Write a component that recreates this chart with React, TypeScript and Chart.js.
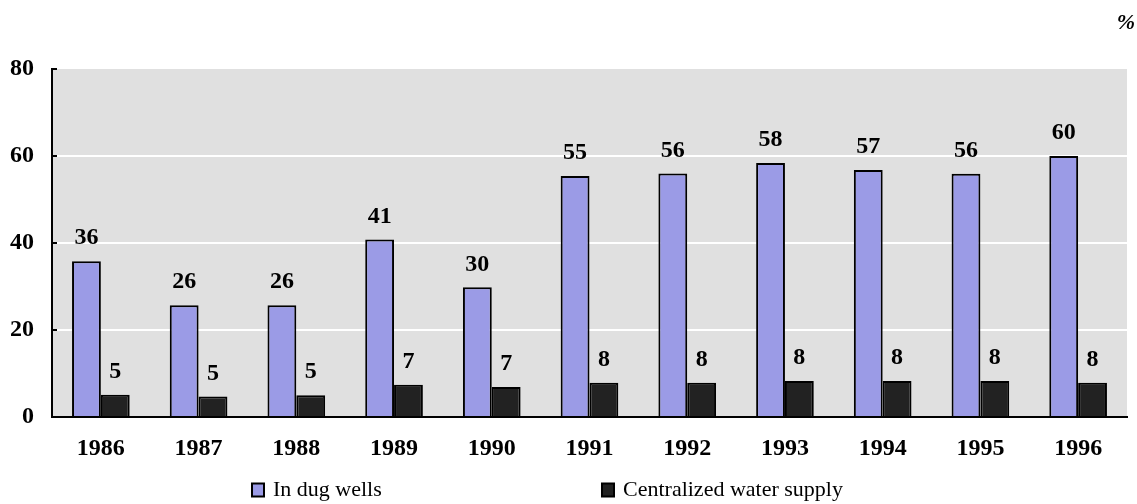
import React, { useEffect, useRef } from "react";
import { Chart, registerables } from "chart.js";

Chart.register(...registerables);

const years = ["1986", "1987", "1988", "1989", "1990", "1991", "1992", "1993", "1994", "1995", "1996"];
const dugWells = [35.8, 25.7, 25.7, 40.8, 29.8, 55.4, 56.0, 58.4, 56.8, 55.9, 60.0];
const centralized = [5.1, 4.7, 5.0, 7.4, 6.9, 7.9, 7.9, 8.3, 8.3, 8.3, 7.9];
const seriesNames = ["In dug wells", "Centralized water supply"];
const seriesColors = ["#9b9be6", "#222222"];
const yTicks = [0, 20, 40, 60, 80];
const unitLabel = "%";

const SERIF = "'Liberation Serif', 'Times New Roman', serif";

const decorPlugin = {
  id: "decor",
  beforeDraw(chart: any) {
    const { ctx, chartArea } = chart;
    ctx.save();
    ctx.fillStyle = "#e0e0e0";
    ctx.fillRect(chartArea.left, chartArea.top, chartArea.right - chartArea.left, chartArea.bottom - chartArea.top);
    ctx.restore();
  },
  afterDraw(chart: any) {
    const { ctx, chartArea } = chart;
    const y = chart.scales.y;
    ctx.save();
    ctx.strokeStyle = "#000";
    ctx.lineWidth = 2;
    yTicks.forEach((v) => {
      const py = Math.round(y.getPixelForValue(v));
      ctx.beginPath();
      ctx.moveTo(chartArea.left - 1, py);
      ctx.lineTo(chartArea.left + 5, py);
      ctx.stroke();
    });
    ctx.fillStyle = "#000";
    ctx.font = `italic bold 22px ${SERIF}`;
    ctx.textAlign = "right";
    ctx.textBaseline = "middle";
    ctx.fillText(unitLabel, chart.width - 2, 23);
    const legendY = 490;
    const starts = [chartArea.left + 200, chartArea.left + 550];
    ctx.font = `22px ${SERIF}`;
    ctx.textAlign = "left";
    seriesNames.forEach((name, i) => {
      const x = starts[i];
      ctx.fillStyle = seriesColors[i];
      ctx.fillRect(x, legendY - 6.5, 12, 13);
      ctx.strokeStyle = "#000";
      ctx.lineWidth = 2;
      ctx.strokeRect(x, legendY - 6.5, 12, 13);
      ctx.fillStyle = "#000";
      ctx.fillText(name, x + 21, legendY);
    });
    ctx.restore();
  },
  afterDatasetsDraw(chart: any) {
    const { ctx } = chart;
    ctx.save();
    ctx.fillStyle = "#000";
    ctx.font = `bold 24px ${SERIF}`;
    ctx.textAlign = "center";
    ctx.textBaseline = "middle";
    chart.data.datasets.forEach((ds: any, di: number) => {
      const meta = chart.getDatasetMeta(di);
      meta.data.forEach((bar: any, i: number) => {
        ctx.fillText(String(Math.round(ds.data[i])), bar.x, bar.y - 23);
      });
    });
    ctx.restore();
  },
};

export default function App() {
  const ref = useRef<HTMLCanvasElement>(null);
  useEffect(() => {
    if (!ref.current) return;
    const chart = new Chart(ref.current, {
      type: "bar",
      data: {
        labels: years,
        datasets: [
          {
            label: seriesNames[0],
            data: dugWells,
            backgroundColor: seriesColors[0],
            borderColor: "#000",
            borderWidth: 2,
            categoryPercentage: 0.59,
            barPercentage: 1,
          },
          {
            label: seriesNames[1],
            data: centralized,
            backgroundColor: seriesColors[1],
            borderColor: "#000",
            borderWidth: 2,
            categoryPercentage: 0.59,
            barPercentage: 1,
          },
        ],
      },
      options: {
        animation: false,
        responsive: false,
        devicePixelRatio: 1,
        layout: { padding: { top: 69, right: 10, left: 0, bottom: 0 } },
        plugins: { legend: { display: false }, tooltip: { enabled: false } },
        scales: {
          x: {
            grid: { display: false, drawTicks: false },
            border: { display: true, color: "#000", width: 2 },
            ticks: { color: "#000", font: { family: SERIF, size: 24, weight: "bold" }, padding: 17 },
            afterFit: (s: any) => {
              s.height = 87;
            },
          },
          y: {
            min: 0,
            max: 80,
            ticks: { stepSize: 20, color: "#000", font: { family: SERIF, size: 24, weight: "bold" }, padding: 18 },
            grid: {
              drawTicks: false,
              lineWidth: 2,
              color: (c: any) => (c.tick && c.tick.value > 0 && c.tick.value < 80 ? "#ffffff" : "rgba(0,0,0,0)"),
            },
            border: { display: true, color: "#000", width: 2 },
            afterFit: (s: any) => {
              s.width = 52;
            },
          },
        },
      },
      plugins: [decorPlugin],
    });
    return () => chart.destroy();
  }, []);
  return (
    <div style={{ position: "fixed", left: 0, top: 0, width: 1137, height: 504, background: "#fff" }}>
      <canvas ref={ref} width={1137} height={504} style={{ width: 1137, height: 504 }} />
    </div>
  );
}
